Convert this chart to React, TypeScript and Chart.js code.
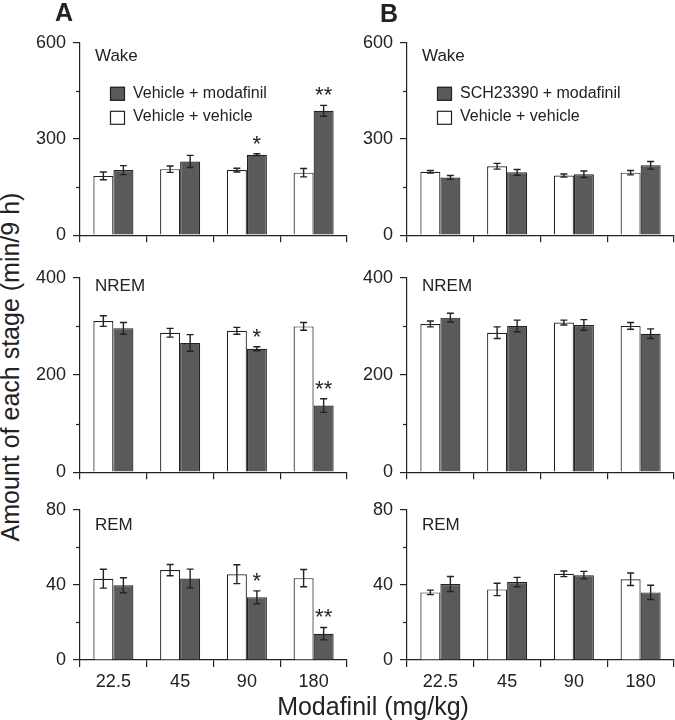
import React, { useEffect, useRef } from "react";
import { Chart, registerables } from "chart.js";

Chart.register(...registerables);

const FONT = "'Liberation Sans', Arial, Helvetica, sans-serif";
const INK = "#222222";
const DARK = "#5a5a5a";

// ---------- data ----------
const doses = ["22.5", "45", "90", "180"];

const wakeA_veh = [185, 206, 203, 195];
const wakeA_vehErr = [12, 10, 6, 13];
const wakeA_mod = [203, 230, 251, 388];
const wakeA_modErr = [14, 19, 3, 17];

const wakeB_veh = [198, 215, 186, 195];
const wakeB_vehErr = [4, 9, 5, 7];
const wakeB_sch = [180, 196, 190, 218];
const wakeB_schErr = [6, 9, 10, 12];

const nremA_veh = [311, 287, 291, 300];
const nremA_vehErr = [11, 9, 7, 8];
const nremA_mod = [296, 266, 254, 137];
const nremA_modErr = [12, 17, 4, 14];

const nremB_veh = [305, 287, 308, 301];
const nremB_vehErr = [6, 12, 5, 7];
const nremB_sch = [318, 301, 303, 285];
const nremB_schErr = [9, 12, 11, 10];

const remA_veh = [43.3, 47.9, 45.7, 43.6];
const remA_vehErr = [5, 3, 5, 4.6];
const remA_mod = [39.8, 43.4, 33.4, 14];
const remA_modErr = [4, 5, 3.4, 3.3];

const remB_veh = [36, 37.6, 45.9, 43];
const remB_vehErr = [1.2, 3.3, 1.5, 3.3];
const remB_sch = [40.5, 41.5, 45.2, 36];
const remB_schErr = [4, 2.5, 2, 3.8];

const sigA = ["", "", "*", "**"];
const sigB = ["", "", "", ""];

const legendWhite = "Vehicle + vehicle";
const legendDarkA = "Vehicle + modafinil";
const legendDarkB = "SCH23390 + modafinil";

const yMaxWake = 600;
const yMaxNrem = 400;
const yMaxRem = 80;

const yTitle = "Amount of each stage (min/9 h)";
const xTitle = "Modafinil (mg/kg)";

// ---------- layout ----------
type Panel = {
  key: string;
  left: number;
  top: number;
  width: number;
  height: number;
  padRight: number;
  xHeight: number;
  showX: boolean;
  max: number;
  stage: string;
  stageDy: number;
  veh: number[];
  vehErr: number[];
  drug: number[];
  drugErr: number[];
  sig: string[];
  legendDark?: string;
};

const colA = { left: 30, width: 320, padRight: 3 };
const colB = { left: 357, width: 318, padRight: 1 };
const rowWake = { top: 25, height: 228, xHeight: 10, showX: false };
const rowNrem = { top: 260, height: 230, xHeight: 10, showX: false };
const rowRem = { top: 492, height: 202, xHeight: 34, showX: true };

const panels: Panel[] = [
  { key: "wA", ...colA, ...rowWake, max: yMaxWake, stage: "Wake", stageDy: 14, veh: wakeA_veh, vehErr: wakeA_vehErr, drug: wakeA_mod, drugErr: wakeA_modErr, sig: sigA, legendDark: legendDarkA },
  { key: "wB", ...colB, ...rowWake, max: yMaxWake, stage: "Wake", stageDy: 14, veh: wakeB_veh, vehErr: wakeB_vehErr, drug: wakeB_sch, drugErr: wakeB_schErr, sig: sigB, legendDark: legendDarkB },
  { key: "nA", ...colA, ...rowNrem, max: yMaxNrem, stage: "NREM", stageDy: 9, veh: nremA_veh, vehErr: nremA_vehErr, drug: nremA_mod, drugErr: nremA_modErr, sig: sigA },
  { key: "nB", ...colB, ...rowNrem, max: yMaxNrem, stage: "NREM", stageDy: 9, veh: nremB_veh, vehErr: nremB_vehErr, drug: nremB_sch, drugErr: nremB_schErr, sig: sigB },
  { key: "rA", ...colA, ...rowRem, max: yMaxRem, stage: "REM", stageDy: 16, veh: remA_veh, vehErr: remA_vehErr, drug: remA_mod, drugErr: remA_modErr, sig: sigA },
  { key: "rB", ...colB, ...rowRem, max: yMaxRem, stage: "REM", stageDy: 16, veh: remB_veh, vehErr: remB_vehErr, drug: remB_sch, drugErr: remB_schErr, sig: sigB },
];

function PanelChart({ p }: { p: Panel }) {
  const ref = useRef<HTMLCanvasElement>(null);

  useEffect(() => {
    const canvas = ref.current;
    if (!canvas) return;

    const overlay = {
      id: "overlay",
      afterDatasetsDraw(chart: any) {
        const ctx = chart.ctx;
        const y = chart.scales.y;
        const area = chart.chartArea;
        ctx.save();

        // minor y ticks
        ctx.strokeStyle = INK;
        ctx.lineWidth = 1.2;
        [p.max / 4, (3 * p.max) / 4].forEach((v) => {
          const py = Math.round(y.getPixelForValue(v)) + 0.5;
          ctx.beginPath();
          ctx.moveTo(area.left - 4, py);
          ctx.lineTo(area.left, py);
          ctx.stroke();
        });

        // error bars
        const errs = [p.vehErr, p.drugErr];
        chart.data.datasets.forEach((ds: any, di: number) => {
          const meta = chart.getDatasetMeta(di);
          meta.data.forEach((bar: any, i: number) => {
            const v = ds.data[i];
            const e = errs[di][i];
            const x = bar.x;
            const yHi = y.getPixelForValue(v + e);
            const yLo = y.getPixelForValue(v - e);
            ctx.strokeStyle = INK;
            ctx.lineWidth = 1.4;
            ctx.beginPath();
            ctx.moveTo(x, yHi);
            ctx.lineTo(x, yLo);
            ctx.moveTo(x - 3.5, yHi);
            ctx.lineTo(x + 3.5, yHi);
            ctx.moveTo(x - 3.5, yLo);
            ctx.lineTo(x + 3.5, yLo);
            ctx.stroke();
          });
        });

        // significance asterisks
        const dmeta = chart.getDatasetMeta(1);
        ctx.fillStyle = INK;
        ctx.textAlign = "center";
        ctx.textBaseline = "alphabetic";
        const fs = 22;
        ctx.font = `${fs}px ${FONT}`;
        p.sig.forEach((s, i) => {
          if (!s) return;
          const bar = dmeta.data[i];
          const top = y.getPixelForValue(p.drug[i] + p.drugErr[i]);
          const cy = top - 16;
          ctx.fillText(s, bar.x, cy + 0.58 * fs);
        });

        // stage label
        ctx.textAlign = "left";
        ctx.textBaseline = "middle";
        ctx.font = `17px ${FONT}`;
        ctx.fillText(p.stage, area.left + 15, area.top + p.stageDy);

        // legend
        if (p.legendDark) {
          const items = [
            { fill: DARK, text: p.legendDark, sy: 44, ty: 51 },
            { fill: "#ffffff", text: legendWhite, sy: 68, ty: 74 },
          ];
          ctx.font = `16px ${FONT}`;
          items.forEach((it) => {
            ctx.fillStyle = it.fill;
            ctx.fillRect(area.left + 30, area.top + it.sy, 15, 14);
            ctx.strokeStyle = INK;
            ctx.lineWidth = 1.2;
            ctx.strokeRect(area.left + 30.5, area.top + it.sy + 0.5, 14, 13);
            ctx.fillStyle = INK;
            ctx.fillText(it.text, area.left + 53, area.top + it.ty);
          });
        }
        ctx.restore();
      },
    };

    const chart = new Chart(canvas, {
      type: "bar",
      data: {
        labels: doses,
        datasets: [
          {
            label: legendWhite,
            data: p.veh,
            backgroundColor: "#ffffff",
            borderColor: INK,
            borderWidth: 1.2,
            categoryPercentage: 0.6,
            barPercentage: 1.0,
          },
          {
            label: p.legendDark || "drug",
            data: p.drug,
            backgroundColor: DARK,
            borderColor: INK,
            borderWidth: 1.2,
            categoryPercentage: 0.6,
            barPercentage: 1.0,
          },
        ],
      },
      options: {
        animation: false,
        responsive: false,
        maintainAspectRatio: false,
        layout: { padding: { top: 14, right: p.padRight, left: 0, bottom: 0 } },
        plugins: {
          legend: { display: false },
          tooltip: { enabled: false },
        },
        scales: {
          x: {
            type: "category",
            offset: true,
            grid: {
              display: true,
              offset: true,
              drawOnChartArea: false,
              drawTicks: true,
              tickLength: 7,
              color: INK,
              lineWidth: 1.2,
            },
            border: { display: true, color: INK, width: 1.2 },
            ticks: {
              display: p.showX,
              color: INK,
              font: { family: FONT, size: 18 },
              padding: 4,
              maxRotation: 0,
              autoSkip: false,
            },
            afterFit: (s: any) => {
              s.height = p.xHeight;
            },
          },
          y: {
            min: 0,
            max: p.max,
            grid: {
              display: true,
              drawOnChartArea: false,
              drawTicks: true,
              tickLength: 7,
              color: INK,
              lineWidth: 1.2,
            },
            border: { display: true, color: INK, width: 1.2 },
            ticks: {
              stepSize: p.max / 2,
              color: INK,
              font: { family: FONT, size: 18 },
              padding: 7,
            },
            afterFit: (s: any) => {
              s.width = 50;
            },
          },
        },
      },
      plugins: [overlay],
    } as any);

    return () => chart.destroy();
  }, [p]);

  return (
    <canvas
      ref={ref}
      width={p.width}
      height={p.height}
      style={{ position: "absolute", left: p.left, top: p.top, width: p.width, height: p.height }}
    />
  );
}

export default function App() {
  return (
    <div
      style={{
        position: "absolute",
        left: 0,
        top: 0,
        width: 675,
        height: 720,
        background: "#ffffff",
        fontFamily: FONT,
        color: INK,
        overflow: "hidden",
      }}
    >
      {panels.map((p) => (
        <PanelChart key={p.key} p={p} />
      ))}
      <div
        style={{
          position: "absolute",
          left: 64,
          top: 12,
          transform: "translate(-50%, -50%)",
          fontSize: 25,
          fontWeight: "bold",
          lineHeight: 1,
        }}
      >
        A
      </div>
      <div
        style={{
          position: "absolute",
          left: 389,
          top: 13,
          transform: "translate(-50%, -50%)",
          fontSize: 25,
          fontWeight: "bold",
          lineHeight: 1,
        }}
      >
        B
      </div>
      <div
        style={{
          position: "absolute",
          left: 10,
          top: 367,
          transform: "translate(-50%, -50%) rotate(-90deg)",
          fontSize: 25,
          lineHeight: 1,
          whiteSpace: "nowrap",
        }}
      >
        {yTitle}
      </div>
      <div
        style={{
          position: "absolute",
          left: 373,
          top: 706,
          transform: "translate(-50%, -50%)",
          fontSize: 25,
          lineHeight: 1,
          whiteSpace: "nowrap",
        }}
      >
        {xTitle}
      </div>
    </div>
  );
}
